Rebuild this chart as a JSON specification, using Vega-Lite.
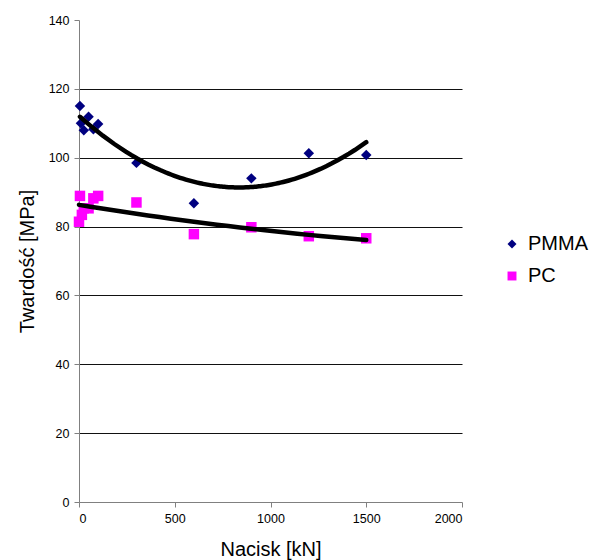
{
  "$schema": "https://vega.github.io/schema/vega-lite/v6.json",
  "autosize": {"type": "none"},
  "padding": {"left": 79, "top": 20, "right": 134, "bottom": 58},
  "width": 383,
  "height": 482,
  "background": "white",
  "config": {
    "view": {"stroke": null},
    "font": "Liberation Sans",
    "axis": {"labelFont": "Liberation Sans", "titleFont": "Liberation Sans", "labelColor": "black", "titleColor": "black", "titleFontWeight": "normal"},
    "legend": {"labelFont": "Liberation Sans"}
  },
  "data": {
    "values": [
      {"x": 5, "y": 115.0, "series": "PMMA"},
      {"x": 10, "y": 110.0, "series": "PMMA"},
      {"x": 25, "y": 108.0, "series": "PMMA"},
      {"x": 50, "y": 111.9, "series": "PMMA"},
      {"x": 75, "y": 108.3, "series": "PMMA"},
      {"x": 100, "y": 109.8, "series": "PMMA"},
      {"x": 300, "y": 98.5, "series": "PMMA"},
      {"x": 600, "y": 86.8, "series": "PMMA"},
      {"x": 900, "y": 94.0, "series": "PMMA"},
      {"x": 1200, "y": 101.3, "series": "PMMA"},
      {"x": 1500, "y": 100.8, "series": "PMMA"},
      {"x": 0, "y": 81.4, "series": "PC"},
      {"x": 5, "y": 88.9, "series": "PC"},
      {"x": 15, "y": 83.4, "series": "PC"},
      {"x": 25, "y": 85.3, "series": "PC"},
      {"x": 50, "y": 85.3, "series": "PC"},
      {"x": 75, "y": 88.2, "series": "PC"},
      {"x": 100, "y": 88.9, "series": "PC"},
      {"x": 300, "y": 87.0, "series": "PC"},
      {"x": 600, "y": 77.8, "series": "PC"},
      {"x": 900, "y": 79.8, "series": "PC"},
      {"x": 1200, "y": 77.2, "series": "PC"},
      {"x": 1500, "y": 76.6, "series": "PC"}
    ]
  },
  "layer": [
    {
      "mark": {"type": "point", "filled": true, "opacity": 1, "size": 110},
      "encoding": {
        "x": {
          "field": "x", "type": "quantitative",
          "scale": {"domain": [0, 2000], "nice": false},
          "axis": {
            "title": "Nacisk [kN]", "titleFontSize": 20, "titleY": 53, "titleBaseline": "alphabetic",
            "values": [0, 500, 1000, 1500, 2000], "format": "d", "grid": false,
            "domainColor": "#808080", "tickColor": "#808080", "tickSize": 5,
            "labelFontSize": 12.5, "labelPadding": 5
          }
        },
        "y": {
          "field": "y", "type": "quantitative",
          "scale": {"domain": [0, 140], "nice": false},
          "axis": {
            "title": "Twardość [MPa]", "titleFontSize": 20, "titleX": -46, "titleY": 241,
            "titleBaseline": "alphabetic", "titleAngle": -90, "titleAlign": "center",
            "values": [0, 20, 40, 60, 80, 100, 120, 140], "format": "d",
            "grid": true, "gridColor": "#111111", "gridWidth": 1,
            "gridOpacity": {"condition": {"test": "datum.value === 140 || datum.value === 0", "value": 0}, "value": 1},
            "domainColor": "#808080", "tickColor": "#808080", "tickSize": 5,
            "labelFontSize": 12.5, "labelPadding": 5
          }
        },
        "color": {
          "field": "series", "type": "nominal",
          "scale": {"domain": ["PMMA", "PC"], "range": ["#000080", "#FF00FF"]},
          "legend": {
            "title": null, "orient": "none", "legendX": 423, "legendY": 214,
            "labelFontSize": 20, "symbolSize": 80, "rowPadding": 12, "labelOffset": 6,
            "symbolStrokeWidth": 0, "labelColor": "black"
          }
        },
        "shape": {
          "field": "series", "type": "nominal",
          "scale": {"domain": ["PMMA", "PC"], "range": ["diamond", "square"]},
          "legend": null
        }
      }
    },
    {
      "transform": [
        {"regression": "y", "on": "x", "method": "poly", "order": 2, "groupby": ["series"]}
      ],
      "mark": {"type": "line", "color": "black", "strokeWidth": 4.5, "strokeCap": "round"},
      "encoding": {
        "x": {"field": "x", "type": "quantitative"},
        "y": {"field": "y", "type": "quantitative"},
        "detail": {"field": "series", "type": "nominal"}
      }
    }
  ]
}
